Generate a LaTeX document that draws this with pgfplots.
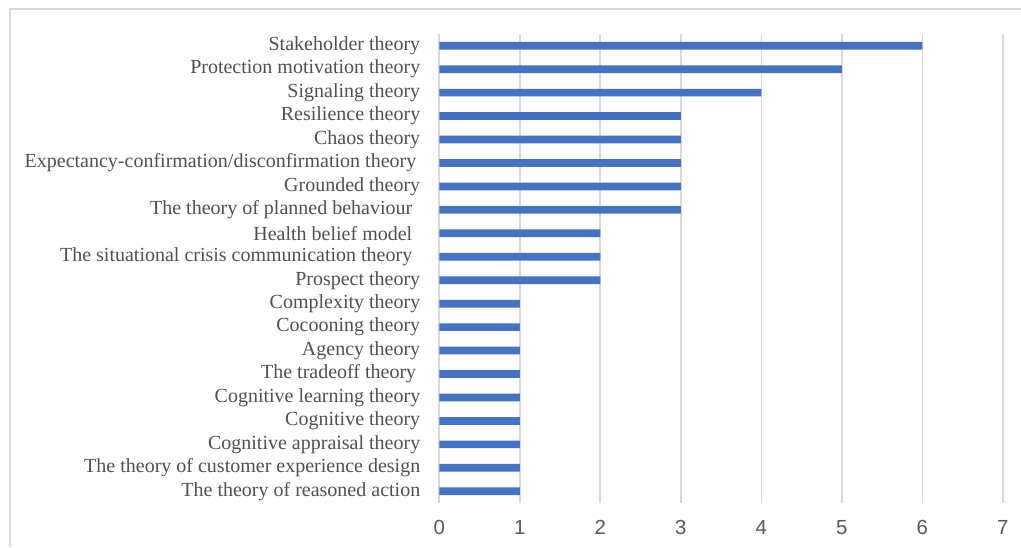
\documentclass[border=0pt]{standalone}
\usepackage{pgfplots}
\pgfplotsset{compat=1.18}
\usepackage{fontspec}
\setmainfont{Liberation Serif}
\newfontfamily\ticksans{Liberation Sans}
\definecolor{barblue}{HTML}{4472C4}
\definecolor{gridgray}{HTML}{D9D9D9}
\definecolor{labelgray}{HTML}{505050}
\definecolor{tickgray}{HTML}{595959}

% Number of studies applying each theory (bottom to top)
\pgfplotstableread{
idx count
0  1
1  1
2  1
3  1
4  1
5  1
6  1
7  1
8  1
9  2
10 2
11 2
12 3
13 3
14 3
15 3
16 3
17 4
18 5
19 6
}\theories

\begin{document}
\begin{tikzpicture}[x=0.5pt,y=0.5pt]
  % page extent and outer frame
  \useasboundingbox (-439.3,-44) rectangle (581.7,503);
  \draw[gridgray, line width=1pt] (-429.3,-44) -- (-429.3,494) -- (581.7,494);
  \begin{axis}[
    at={(0,0)}, anchor=south west,
    scale only axis,
    width=281.75pt, height=234.5pt,
    xbar,
    bar width=3.85pt,
    xmin=0, xmax=7,
    ymin=-0.5, ymax=19.5,
    axis line style={draw=none},
    xmajorgrids,
    grid style={gridgray, line width=0.8pt},
    xtick={0,1,...,7},
    ytick={0,1,...,19},
    major tick length=0pt,
    tick style={draw=none},
    yticklabels={
      The theory of reasoned action,
      The theory of customer experience design,
      Cognitive appraisal theory,
      Cognitive theory,
      Cognitive learning theory,
      The tradeoff theory\kern2pt,
      Agency theory,
      Cocooning theory,
      Complexity theory,
      Prospect theory,
      The situational crisis communication theory\kern4pt,
      Health belief model\kern4pt,
      The theory of planned behaviour\kern4pt,
      Grounded theory,
      Expectancy-confirmation/disconfirmation theory\kern2pt,
      Chaos theory,
      Resilience theory,
      Signaling theory,
      Protection motivation theory,
      Stakeholder theory
    },
    yticklabel style={font=\fontsize{10}{12}\selectfont, text=labelgray, xshift=-6pt},
    xticklabel style={font=\ticksans\fontsize{10.2}{12}\selectfont, text=tickgray, yshift=-5pt},
    /pgf/number format/assume math mode=true,
    clip=false,
  ]
    \addplot[draw=none, fill=barblue] table[x=count, y=idx] {\theories};
  \end{axis}
\end{tikzpicture}
\end{document}
